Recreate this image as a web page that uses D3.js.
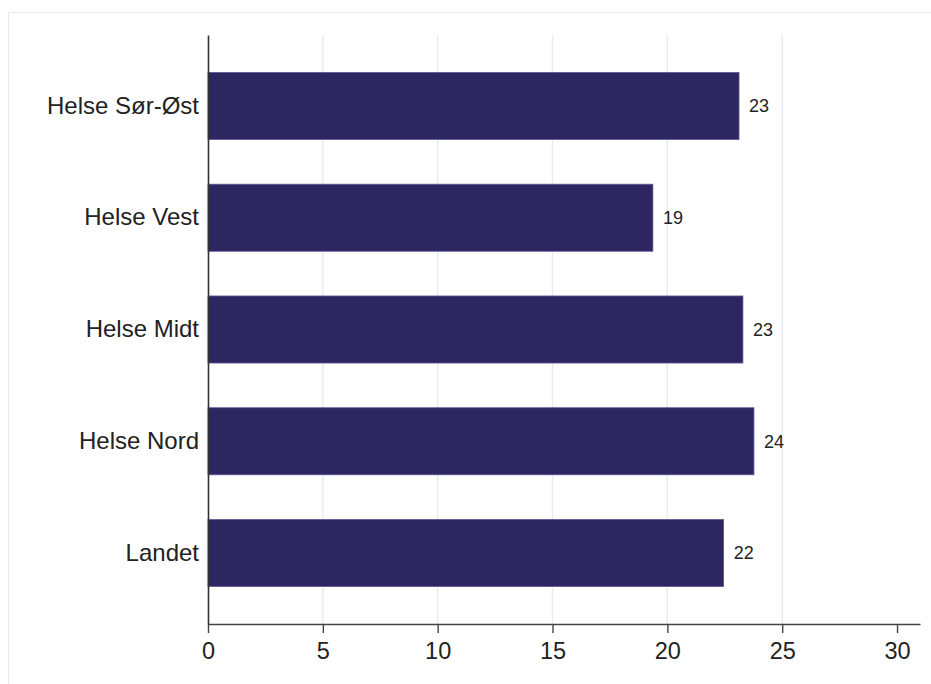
<!DOCTYPE html>
<html>
<head>
<meta charset="utf-8">
<script src="https://cdn.jsdelivr.net/npm/d3@7"></script>
<style>
  html, body { margin: 0; padding: 0; background: #fff; }
  svg { display: block; font-family: "Liberation Sans", Arial, sans-serif; }
</style>
</head>
<body>
<svg id="chart" width="931" height="684"></svg>
<script>
const categories = ["Helse Sør-Øst", "Helse Vest", "Helse Midt", "Helse Nord", "Landet"];
const values = [23.12, 19.37, 23.29, 23.77, 22.45];
const xTicks = [0, 5, 10, 15, 20, 25, 30];
const gridTicks = [5, 10, 15, 20, 25];

const svg = d3.select("#chart");
const plotLeft = 208, plotRight = 920, plotTop = 35, plotBottom = 624;

// outer frame
svg.append("rect")
  .attr("x", 8.5).attr("y", 12.5)
  .attr("width", 1000).attr("height", 1000)
  .attr("fill", "#fff").attr("stroke", "#e2ecec").attr("stroke-width", 1);

const x = d3.scaleLinear().domain([0, 31]).range([plotLeft, plotRight]);
const y = d3.scaleBand().domain(categories).range([plotTop, plotBottom])
  .paddingInner(0.4).paddingOuter(0.335);

// gridlines
svg.append("g").selectAll("line").data(gridTicks).join("line")
  .attr("x1", d => x(d)).attr("x2", d => x(d))
  .attr("y1", plotTop).attr("y2", plotBottom)
  .attr("stroke", "#e4eef3").attr("stroke-width", 1.5);

// bars
svg.append("g").selectAll("rect").data(values).join("rect")
  .attr("x", x(0))
  .attr("y", (d, i) => y(categories[i]))
  .attr("width", d => x(d) - x(0))
  .attr("height", y.bandwidth())
  .attr("fill", "#2e2660")
  .attr("stroke", "#5d5896").attr("stroke-width", 0.8);

// value labels
svg.append("g").selectAll("text").data(values).join("text")
  .attr("x", d => x(d) + 10)
  .attr("y", (d, i) => y(categories[i]) + y.bandwidth() / 2)
  .attr("dy", "0.35em")
  .attr("font-size", 18)
  .attr("fill", "#222")
  .text(d => d3.format(".0f")(d));

// x axis
const xAxis = d3.axisBottom(x).tickValues(xTicks).tickSize(9).tickSizeOuter(0).tickPadding(9);
const gx = svg.append("g").attr("transform", `translate(0,${plotBottom})`).call(xAxis);
gx.select(".domain").attr("stroke", "#444").attr("stroke-width", 1.6);
gx.selectAll(".tick line").attr("stroke", "#444").attr("stroke-width", 1.4);
gx.selectAll(".tick text").attr("font-size", 23.5).attr("fill", "#222")
  .attr("font-family", "Liberation Sans, Arial, sans-serif");

// y axis
const yAxis = d3.axisLeft(y).tickSize(0).tickPadding(9);
const gy = svg.append("g").attr("transform", `translate(${plotLeft},0)`).call(yAxis);
gy.select(".domain").attr("stroke", "#333").attr("stroke-width", 1.6);
gy.selectAll(".tick text").attr("font-size", 24).attr("fill", "#222")
  .attr("font-family", "Liberation Sans, Arial, sans-serif");
</script>
</body>
</html>
